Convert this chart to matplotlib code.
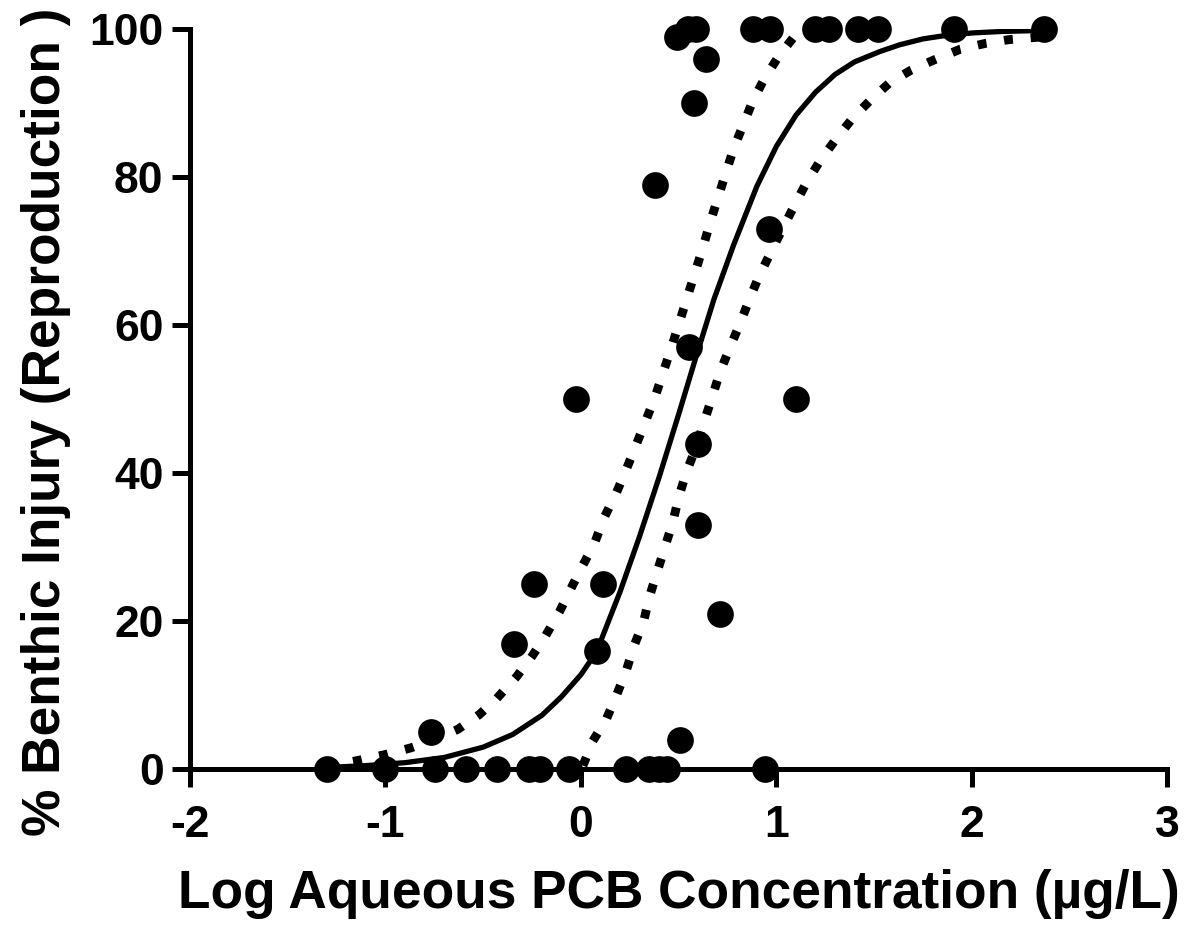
import numpy as np
import matplotlib
matplotlib.use("Agg")
import matplotlib.pyplot as plt

plt.rcParams['font.family'] = ['Liberation Sans', 'DejaVu Sans']
plt.rcParams['font.weight'] = 'bold'
plt.rcParams['axes.unicode_minus'] = False

# measured points (log conc, % injury)
x_pts = [0.547, 0.59, 0.88, 0.965, 1.195, 1.27, 1.417, 1.52, 1.91, 2.37,
         0.49, 0.637, 0.58, 0.381, 0.96, 0.555, -0.025, 1.098, 0.60, 0.60,
         -0.24, 0.115, 0.71, -0.344, 0.08, -0.767, 0.504,
         -1.30, -1.00, -0.745, -0.588, -0.428, -0.264, -0.212, -0.059,
         0.23, 0.35, 0.40, 0.44, 0.94]
y_pts = [100, 100, 100, 100, 100, 100, 100, 100, 100, 100,
         99, 96, 90, 79, 73, 57, 50, 50, 44, 33,
         25, 25, 21, 17, 16, 5, 4,
         0, 0, 0, 0, 0, 0, 0, 0,
         0, 0, 0, 0, 0]

# fitted curve
fit_x = [-1.30, -1.10, -0.90, -0.70, -0.50, -0.35, -0.20, -0.10, 0.00, 0.08,
         0.20, 0.30, 0.40, 0.50, 0.58, 0.68, 0.78, 0.90, 1.00, 1.10,
         1.20, 1.30, 1.40, 1.53, 1.63, 1.75, 1.85, 2.00, 2.15, 2.37]
fit_y = [0.25, 0.5, 0.9, 1.6, 3.0, 4.7, 7.3, 9.8, 12.8, 15.9,
         24.0, 31.5, 39.5, 48.0, 55.0, 63.5, 70.8, 78.8, 84.2, 88.4,
         91.5, 93.9, 95.6, 97.0, 97.9, 98.7, 99.1, 99.5, 99.7, 99.85]

# 95% confidence band, upper (left) side
upper_x = [-1.30, -1.14, -1.00, -0.87, -0.75, -0.63, -0.52, -0.43, -0.33, -0.25,
           -0.18, -0.11, -0.05, 0.01, 0.07, 0.12, 0.18, 0.23, 0.28, 0.33,
           0.38, 0.42, 0.47, 0.52, 0.57, 0.62, 0.66, 0.70, 0.74, 0.78,
           0.83, 0.88, 0.94, 1.01, 1.09, 1.12]
upper_y = [0.4, 1.2, 2.0, 2.9, 4.0, 5.4, 7.4, 9.6, 12.5, 15.3,
           18.1, 21.3, 24.5, 27.6, 30.6, 34.1, 37.3, 40.4, 43.7, 47.0,
           50.4, 53.6, 57.6, 61.8, 66.0, 70.2, 73.8, 77.2, 80.5, 83.8,
           87.1, 90.4, 93.4, 96.3, 99.0, 99.6]

# 95% confidence band, lower (right) side
lower_x = [0.01, 0.06, 0.13, 0.18, 0.23, 0.27, 0.32, 0.35, 0.39, 0.43,
           0.47, 0.50, 0.54, 0.59, 0.63, 0.67, 0.71, 0.76, 0.81, 0.86,
           0.91, 0.97, 1.03, 1.09, 1.15, 1.22, 1.30, 1.39, 1.48, 1.58,
           1.69, 1.81, 1.94, 2.07, 2.19, 2.37]
lower_y = [0.5, 3.8, 6.8, 9.9, 13.2, 16.6, 19.9, 23.3, 26.7, 30.1,
           33.4, 36.8, 40.2, 43.6, 47.0, 50.2, 53.6, 56.9, 60.0, 63.4,
           66.6, 69.8, 73.0, 76.1, 79.1, 82.1, 85.0, 88.0, 90.4, 92.8,
           94.5, 95.9, 97.3, 98.1, 98.6, 99.0]

x_ticks = [-2, -1, 0, 1, 2, 3]
y_ticks = [0, 20, 40, 60, 80, 100]

fig = plt.figure(figsize=(11.92, 9.26), dpi=100)
ax = fig.add_axes([0.1594, 0.1692, 0.8200, 0.7992])

dot_style = (0, (1.0, 2.0))
ax.plot(upper_x, upper_y, color='black', lw=6.4, linestyle=dot_style, dash_capstyle='butt')
ax.plot(lower_x, lower_y, color='black', lw=6.4, linestyle=dot_style, dash_capstyle='butt')
ax.plot(fit_x, fit_y, color='black', lw=3.8)
ax.scatter(x_pts, y_pts, s=370, color='black', zorder=5, clip_on=False, linewidths=0)

ax.set_xlim(-2, 3)
ax.set_ylim(0, 100)
ax.set_xticks(x_ticks)
ax.set_yticks(y_ticks)

for side in ['top', 'right']:
    ax.spines[side].set_visible(False)
for side in ['left', 'bottom']:
    ax.spines[side].set_linewidth(3.6)

ax.tick_params(axis='both', direction='out', length=13, width=3.6)
ax.tick_params(axis='y', labelsize=32, pad=6)
ax.tick_params(axis='x', labelsize=32, pad=13)
for lab in ax.get_xticklabels() + ax.get_yticklabels():
    lab.set_fontweight('bold')

ax.set_xlabel('Log Aqueous PCB Concentration (µg/L)', fontsize=38.3, fontweight='bold')
ax.set_ylabel('% Benthic Injury (Reproduction )', fontsize=38.3, fontweight='bold')
ax.xaxis.set_label_coords(0.50, -0.135)
ax.yaxis.set_label_coords(-0.122, 0.469)

fig.savefig('out.png', dpi=100)
